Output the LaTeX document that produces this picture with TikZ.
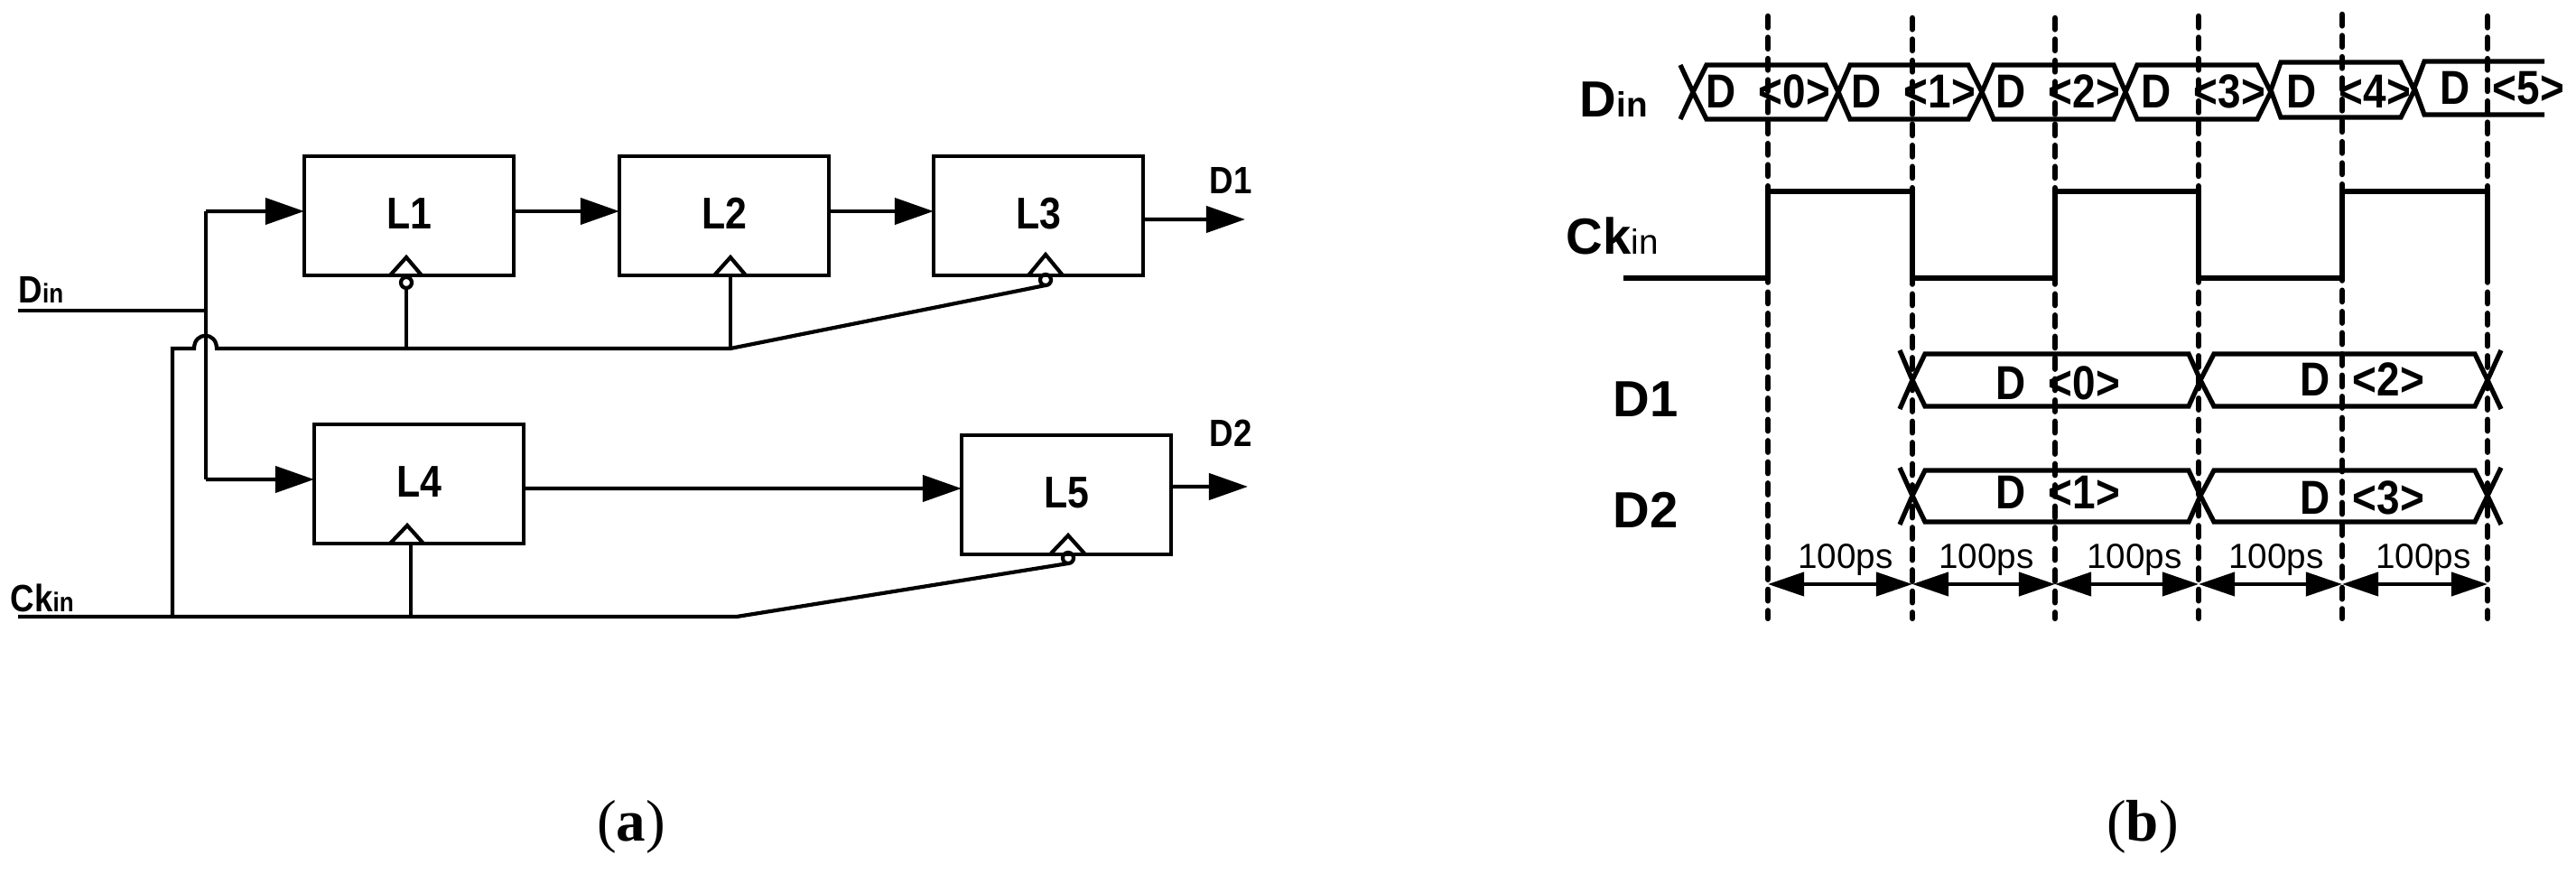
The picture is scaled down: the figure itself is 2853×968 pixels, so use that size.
\documentclass[tikz,border=0pt]{standalone}
\usepackage{fontspec}
\usepackage{tikz}
\usetikzlibrary{arrows.meta}
\setmainfont{Liberation Sans}
\newfontfamily\blockfont[FakeStretch=0.87]{Liberation Sans}
\newfontfamily\capfont{Liberation Serif}
\begin{document}
\begin{tikzpicture}[x=0.01cm, y=-0.01cm,
  wire/.style = {line width=1.2pt},
  flow/.style = {wire, -{Triangle[length=0.43cm,width=0.29cm]}},
  span/.style = {wire, {Triangle[length=0.4cm,width=0.26cm]}-{Triangle[length=0.4cm,width=0.26cm]}},
  latch/.style = {draw, wire, outer sep=0pt, minimum width=2.32cm, minimum height=1.32cm, inner sep=0pt, text depth=0.05cm, font=\blockfont\bfseries\fontsize{14}{14}\selectfont},
  bubble/.style = {draw, wire, circle, inner sep=0pt, outer sep=0pt, minimum size=0.12cm},
  tag/.style = {inner sep=0pt, anchor=base west, font=\blockfont\bfseries\fontsize{12}{12}\selectfont},
  sig/.style = {inner sep=0pt, anchor=base west, font=\bfseries\fontsize{16}{16}\selectfont},
  word/.style = {inner sep=0pt, anchor=base, font=\blockfont\bfseries\fontsize{15}{15}\selectfont},
  period/.style = {inner sep=0pt, anchor=base, font=\fontsize{11}{11}\selectfont},
  bus/.style = {line width=1.5pt, line join=miter},
  guide/.style = {line width=1.8pt, line cap=round, dash pattern=on 0.125cm off 0.11cm},
  pane/.style = {inner sep=0pt, anchor=base, font=\capfont\fontsize{18.5}{18.5}\selectfont}]
\useasboundingbox (0,0) rectangle (2853,968);

% latches
\node[latch] (l1) at (453,239) {L1};
\node[latch] (l2) at (802,239) {L2};
\node[latch] (l3) at (1150,239) {L3};
\node[latch] (l4) at (464,536) {L4};
\node[latch] (l5) at (1181,548) {L5};

% left labels
\node[tag] (din) at (20,336) {D{\fontsize{8.5}{8.5}\selectfont in}};
\node[tag] (ckin) at (11,678) {Ck{\fontsize{8.5}{8.5}\selectfont in}};
\node[tag] (d1) at (1339,215) {D1};
\node[tag] (d2) at (1339,495) {D2};

% clock marks
\draw[wire] (432,305) -- (450,285) -- (467,305);
\draw[wire] (791,305) -- (809,285) -- (826,305);
\draw[wire] (1139,305) -- (1158,282) -- (1177,305);
\draw[wire] (432,602) -- (451,582) -- (469,602);
\draw[wire] (1164,613) -- (1183,593) -- (1201,613);
\node[bubble] (b1) at (450,313) {};
\node[bubble] (b3) at (1158,310) {};
\node[bubble] (b5) at (1183,618) {};

% junctions
\coordinate (dinl) at (20,344);
\coordinate (dinj) at (228,344);
\coordinate (up) at (228,234);
\coordinate (down) at (228,531);
\coordinate (ckl) at (20,683);
\coordinate (ckj) at (191,683);
\coordinate (ckt) at (191,386);
\coordinate (hopa) at (215,386);
\coordinate (hopb) at (240,386);
\coordinate (j1) at (450,386);
\coordinate (j2) at (809,386);
\coordinate (j4) at (455,683);
\coordinate (bend) at (816,683);
\coordinate (o1) at (1379,243);
\coordinate (o2) at (1382,539);

% data path
\draw[wire] (dinl) -- (dinj);
\draw[wire] (down) -- (up);
\draw[flow] (up) -- ([yshift=0.05cm]l1.west);
\draw[flow] (down) -- ([yshift=0.05cm]l4.west);
\draw[flow] ([yshift=0.05cm]l1.east) -- ([yshift=0.05cm]l2.west);
\draw[flow] ([yshift=0.05cm]l2.east) -- ([yshift=0.05cm]l3.west);
\draw[flow] ([yshift=-0.04cm]l3.east) -- (o1);
\draw[flow] ([yshift=-0.05cm]l4.east) -- ([yshift=0.07cm]l5.west);
\draw[flow] ([yshift=0.09cm]l5.east) -- (o2);

% clock path
\draw[wire] (ckl) -- (bend) -- (b5.south);
\draw[wire] (ckj) -- (ckt) -- (hopa) .. controls (215,367) and (240,367) .. (hopb) -- (j2) -- (b3.south);
\draw[wire] (j1) -- (b1.south);
\draw[wire] (j2) -- (809,305);
\draw[wire] (j4) -- (455,602);

% Din waveform
\draw[bus] (1861,72) -- (1875,102) -- (1861,132);
\draw[bus] (1875,102) -- (1890,72) -- (2022,72) -- (2036,102) -- (2022,132) -- (1890,132) -- cycle;
\draw[bus] (2036,102) -- (2049,72) -- (2180,72) -- (2195,102) -- (2180,132) -- (2049,132) -- cycle;
\draw[bus] (2195,102) -- (2208,72) -- (2341,72) -- (2354,102) -- (2341,132) -- (2208,132) -- cycle;
\draw[bus] (2354,102) -- (2367,72) -- (2500,72) -- (2515,102) -- (2500,132) -- (2367,132) -- cycle;
\draw[bus] (2515,100) -- (2526,69) -- (2659,69) -- (2674,100) -- (2659,130) -- (2526,130) -- cycle;
\draw[bus] (2818,68) -- (2685,68) -- (2674,97) -- (2685,127) -- (2818,127);
\node[word] (w0) at (1958,120) {D\ \ <0>};
\node[word] (w1) at (2119,120) {D\ \ <1>};
\node[word] (w2) at (2279,120) {D\ \ <2>};
\node[word] (w3) at (2440,120) {D\ \ <3>};
\node[word] (w4) at (2601,120) {D\ \ <4>};
\node[word] (w5) at (2771,116) {D\ \ <5>};

% Ckin waveform
\draw[bus] (1798,308) -- (1958,308) -- (1958,212) -- (2118,212) -- (2118,308) -- (2276,308) -- (2276,212) -- (2435,212) -- (2435,308) -- (2594,308) -- (2594,212) -- (2755,212) -- (2755,308);

% D1 waveform
\draw[bus] (2104,388) -- (2118,421) -- (2104,453);
\draw[bus] (2118,421) -- (2132,392) -- (2424,392) -- (2437,421) -- (2424,450) -- (2132,450) -- cycle;
\draw[bus] (2437,421) -- (2452,392) -- (2741,392) -- (2755,421) -- (2741,450) -- (2452,450) -- cycle;
\draw[bus] (2770,388) -- (2755,421) -- (2770,453);
\node[word] (w6) at (2279,443) {D\ \ <0>};
\node[word] (w7) at (2616,439) {D\ \ <2>};

% D2 waveform
\draw[bus] (2104,518) -- (2118,549) -- (2104,581);
\draw[bus] (2118,549) -- (2132,521) -- (2424,521) -- (2437,549) -- (2424,578) -- (2132,578) -- cycle;
\draw[bus] (2437,549) -- (2452,521) -- (2741,521) -- (2755,549) -- (2741,578) -- (2452,578) -- cycle;
\draw[bus] (2770,518) -- (2755,549) -- (2770,581);
\node[word] (w8) at (2279,564) {D\ \ <1>};
\node[word] (w9) at (2616,570) {D\ \ <3>};

% guides
\draw[guide] (1958,18) -- (1958,685);
\draw[guide] (2118,20) -- (2118,685);
\draw[guide] (2276,20) -- (2276,685);
\draw[guide] (2435,18) -- (2435,685);
\draw[guide] (2594,16) -- (2594,685);
\draw[guide] (2755,18) -- (2755,685);

% right labels
\node[sig] (rdin) at (1749,130) {D{\fontsize{11}{11}\selectfont in}};
\node[sig] (rck) at (1734,282) {Ck{\mdseries\fontsize{11}{11}\selectfont in}};
\node[sig] (rd1) at (1786,462) {D1};
\node[sig] (rd2) at (1786,585) {D2};

% periods
\coordinate (m0) at (1958,647);
\coordinate (m1) at (2118,647);
\coordinate (m2) at (2276,647);
\coordinate (m3) at (2435,647);
\coordinate (m4) at (2594,647);
\coordinate (m5) at (2755,647);
\draw[span] (m0) -- (m1);
\draw[span] (m1) -- (m2);
\draw[span] (m2) -- (m3);
\draw[span] (m3) -- (m4);
\draw[span] (m4) -- (m5);
\node[period] (p0) at (2044,630) {100ps};
\node[period] (p1) at (2200,630) {100ps};
\node[period] (p2) at (2364,630) {100ps};
\node[period] (p3) at (2521,630) {100ps};
\node[period] (p4) at (2684,630) {100ps};

% captions
\node[pane] (capa) at (699,932) {(\textbf{a})};
\node[pane] (capb) at (2373,932) {(\textbf{b})};
\end{tikzpicture}
\end{document}
